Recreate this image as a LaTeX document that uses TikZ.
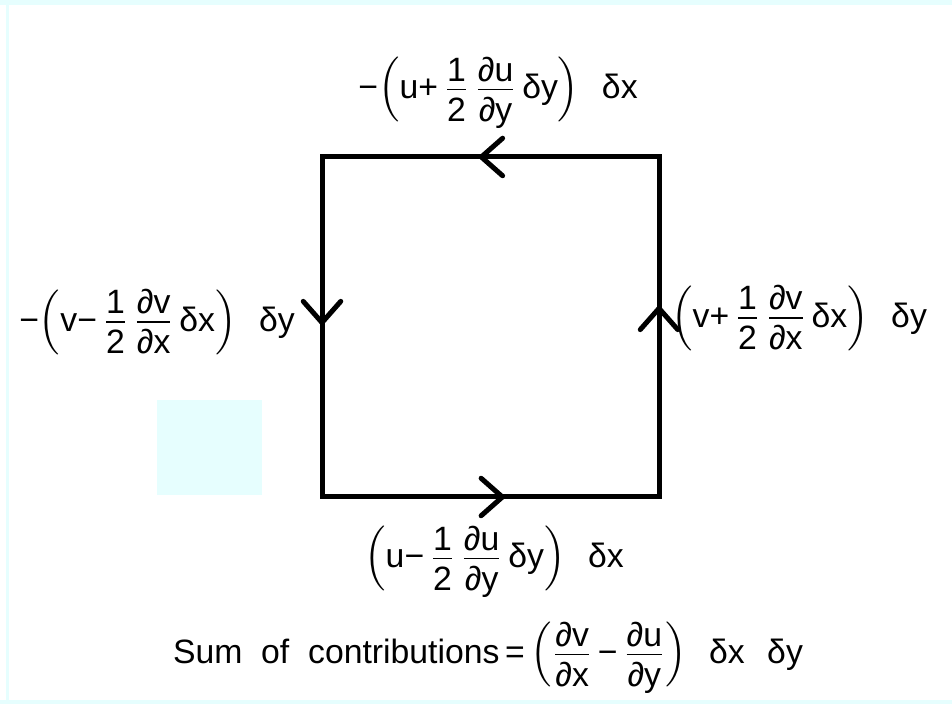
\documentclass[tikz,border=0pt]{standalone}
\usepackage{amsmath}
\usepackage{fontspec}
\setmainfont{Liberation Sans}
\usetikzlibrary{arrows.meta,decorations.markings}
\definecolor{tint}{HTML}{E6FEFE}
\newcommand\T[1]{\text{#1}}
\newcommand\fr[2]{\genfrac{}{}{0.5pt}{1}{\hbox{\rule[-2.5pt]{0pt}{2.5pt}#1}}{\hbox{\rule{0pt}{12pt}#2}}}
\newcommand\pdf[2]{\fr{∂#1}{∂#2}}
\newcommand\hlf{\fr{1}{2}}
\newcommand\gap{\hspace{9pt}}
\begin{document}
\begin{tikzpicture}[x=0.4pt,y=-0.4pt,
  lbl/.style={font=\fontsize{13.5}{16}\selectfont, inner sep=0pt},
  side/.style={line width=2pt, line join=miter},
  mid/.style={postaction={decorate}, decoration={markings,
     mark=at position 0.134 with {\arrow{Straight Barb[length=8.5pt,width=15pt,line cap=round]}},
     mark=at position 0.374 with {\arrow{Straight Barb[length=8.5pt,width=15pt,line cap=round]}},
     mark=at position 0.636 with {\arrow{Straight Barb[length=8.5pt,width=15pt,line cap=round]}},
     mark=at position 0.891 with {\arrow{Straight Barb[length=8.5pt,width=15pt,line cap=round]}}}}]
\useasboundingbox (0,0) rectangle (952,704);
\fill[white] (0,0) rectangle (952,704);
\fill[tint] (0,0) rectangle (952,5);
\fill[tint] (6,5) rectangle (9,701);
\fill[tint] (0,700) rectangle (952,704);
\fill[tint] (157,400) rectangle (262,495);
% square
\coordinate (TL) at (322,157);
\coordinate (TR) at (659,157);
\coordinate (BL) at (322,497);
\coordinate (BR) at (659,497);
\draw[side, mid] (TR) -- (TL) -- (BL) -- (BR) -- cycle;
% labels
\node[lbl] (top) at (498,93) {$\T{−}\Big(\T{u+}\,\hlf\,\pdf{u}{y}\,\T{δy}\Big)\gap\T{δx}$};
\node[lbl] (left) at (157,322) {$\T{−}\Big(\T{v−}\,\hlf\,\pdf{v}{x}\,\T{δx}\Big)\gap\T{δy}$};
\node[lbl] (right) at (799,318) {$\Big(\T{v+}\,\hlf\,\pdf{v}{x}\,\T{δx}\Big)\gap\T{δy}$};
\node[lbl] (bottom) at (494,562) {$\Big(\T{u−}\,\hlf\,\pdf{u}{y}\,\T{δy}\Big)\gap\T{δx}$};
\node[lbl] (sum) at (488,658) {\T{Sum\ \ of\ \ contributions}\,$\T{=}\,\Big(\pdf{v}{x}\,\T{−}\,\pdf{u}{y}\Big)\gap\T{δx}\gap\T{δy}$};
\end{tikzpicture}
\end{document}
